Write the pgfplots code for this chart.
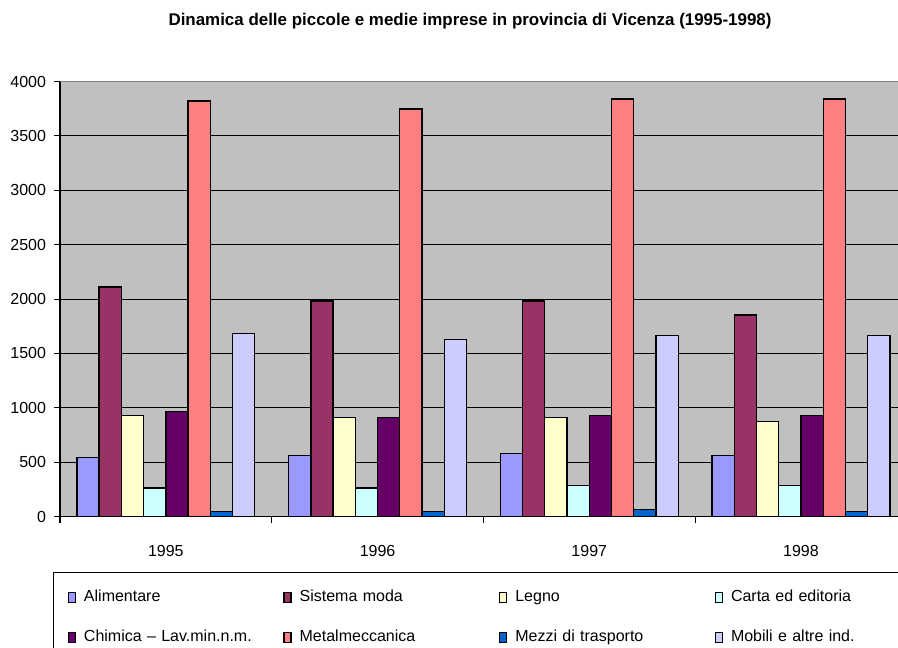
\documentclass[border=0pt]{standalone}
\usepackage{pgfplots}
\usepackage{pgfplotstable}
\pgfplotsset{compat=1.18}
\usepackage{fontspec}
\setmainfont{Liberation Sans}
\definecolor{plotgray}{HTML}{C0C0C0}
\definecolor{cA}{HTML}{9999FF}
\definecolor{cB}{HTML}{993366}
\definecolor{cC}{HTML}{FFFFCC}
\definecolor{cD}{HTML}{CCFFFF}
\definecolor{cE}{HTML}{660066}
\definecolor{cF}{HTML}{FF8080}
\definecolor{cG}{HTML}{0066CC}
\definecolor{cH}{HTML}{CCCCFF}
\pgfplotstableread{
yr A B C D E F G H
0 542 2110 928 263 965 3821 49 1686
1 560 1981 913 263 913 3747 49 1627
2 582 1981 913 284 932 3839 67 1668
3 564 1855 873 284 932 3839 49 1668
}\data
\begin{document}
\begin{tikzpicture}
\useasboundingbox (0,0) rectangle (673.5pt,485.25pt);
\clip (0,0) rectangle (673.5pt,485.25pt);
\begin{axis}[
  at={(45pt,97.8pt)}, anchor=south west,
  scale only axis, width=635.1pt, height=326.3pt,
  xmin=-0.5, xmax=3.5, ymin=0, ymax=4000,
  ybar=0pt, bar width=0.105,
  axis lines=left, axis line style={-, black, line width=0.8pt},
  axis background/.style={fill=plotgray},
  tick align=outside, major tick length=4.5pt,
  tick style={black, line width=0.8pt},
  xtick={-0.5,0.5,1.5,2.5,3.5}, xticklabels={,,,,,},
  extra x ticks={0,1,2,3}, extra x tick labels={1995,1996,1997,1998},
  extra x tick style={major tick length=0pt, tick label style={yshift=-18pt}},
  ytick={0,500,...,3500},
  yticklabel style={xshift=-2.5pt},
  extra y ticks={4000},
  extra y tick style={grid=major, grid style={draw=gray, line width=1pt}},
  ymajorgrids, grid style={black, line width=0.7pt},
  /pgf/number format/assume math mode=true,
  /pgf/number format/1000 sep={},
  tick label style={font=\fontsize{12}{14}\selectfont},
  title={Dinamica delle piccole e medie imprese in provincia di Vicenza (1995-1998)},
  title style={at={(0.4842,1.1197)}, anchor=center, font=\bfseries\fontsize{12.7}{15}\selectfont},
  legend image code/.code={\draw[#1] (0pt,-3.75pt) rectangle (5.25pt,3.75pt);},
  legend columns=4,
  legend cell align=left,
  legend style={at={(-0.00827,-0.1268)}, anchor=north west, draw=black, line width=1pt, fill=white,
    inner xsep=10.5pt, inner ysep=13pt, row sep=18pt,
    font=\fontsize{12}{14}\selectfont,
    nodes={text width=140pt, inner sep=0pt, text height=9pt, text depth=3pt},
    /tikz/every odd column/.style={column sep=6pt},
    /tikz/every even column/.style={column sep=9.5pt}},
]
\addplot[fill=cA, draw=black, line width=1pt] table[x=yr,y=A]{\data};
\addplot[fill=cB, draw=black, line width=1pt] table[x=yr,y=B]{\data};
\addplot[fill=cC, draw=black, line width=1pt] table[x=yr,y=C]{\data};
\addplot[fill=cD, draw=black, line width=1pt] table[x=yr,y=D]{\data};
\addplot[fill=cE, draw=black, line width=1pt] table[x=yr,y=E]{\data};
\addplot[fill=cF, draw=black, line width=1pt] table[x=yr,y=F]{\data};
\addplot[fill=cG, draw=black, line width=1pt] table[x=yr,y=G]{\data};
\addplot[fill=cH, draw=black, line width=1pt] table[x=yr,y=H]{\data};
\legend{Alimentare, Sistema moda, Legno, Carta ed editoria, Chimica -- Lav.min.n.m., Metalmeccanica, Mezzi di trasporto, Mobili e altre ind.}
\end{axis}
\end{tikzpicture}
\end{document}
